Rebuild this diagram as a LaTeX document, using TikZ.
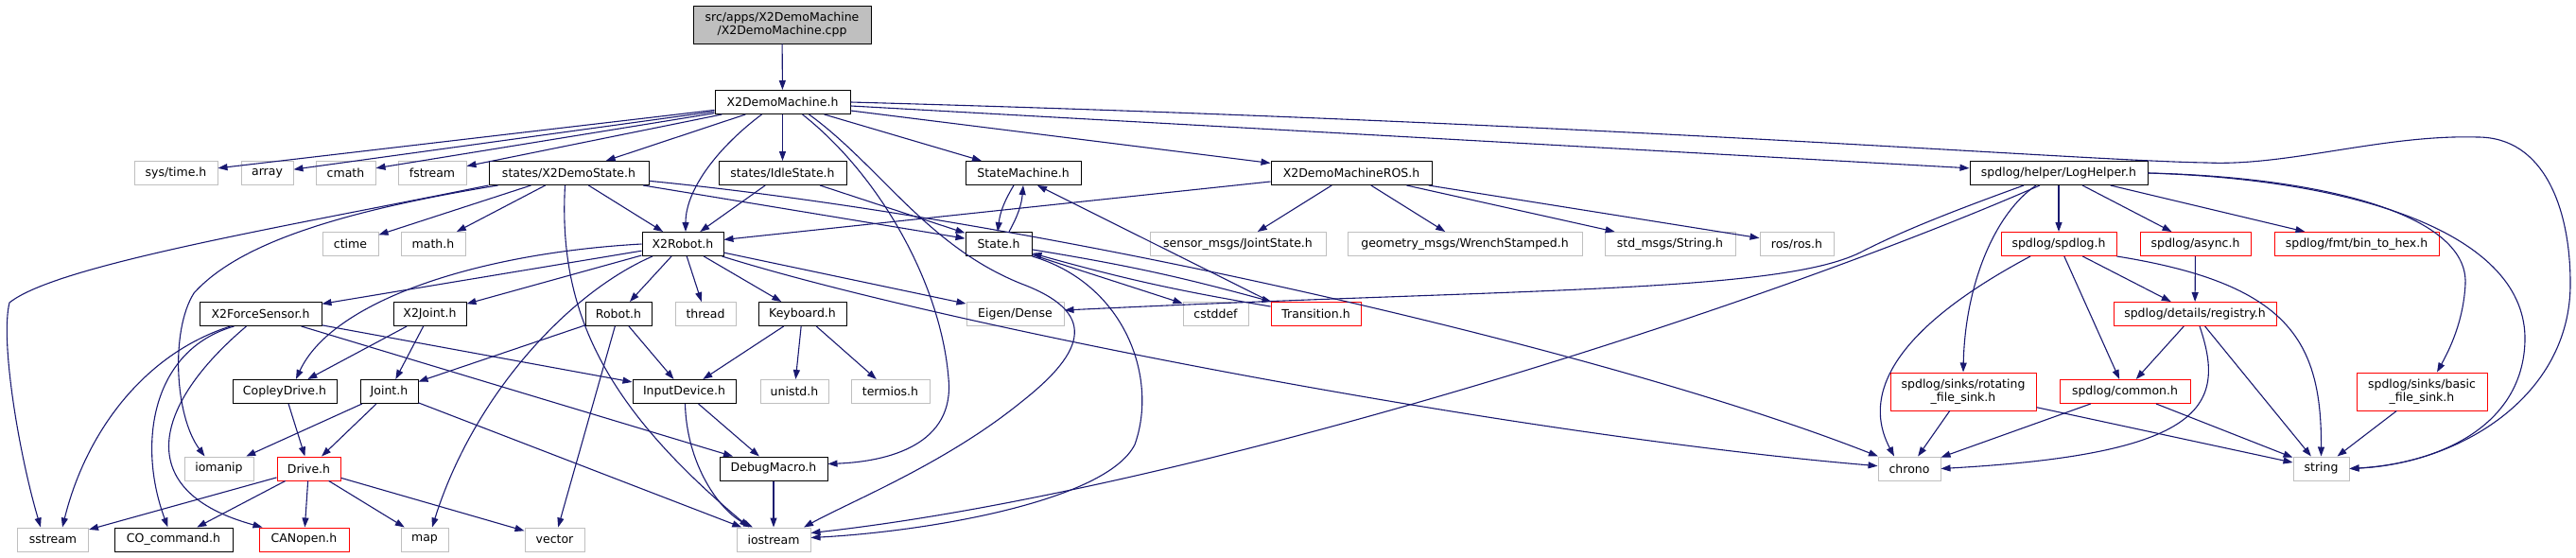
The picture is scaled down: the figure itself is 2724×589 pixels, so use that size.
\documentclass[tikz,border=0pt]{standalone}
\usepackage{fontspec}
\setmainfont{DejaVu Sans}
\usetikzlibrary{arrows.meta}
\definecolor{edgeblue}{HTML}{191970}
\definecolor{extgray}{HTML}{BFBFBF}
\definecolor{truncred}{HTML}{FF0000}

\begin{document}
\begin{tikzpicture}[
  x=1pt, y=-1pt,
  >={Triangle[length=10pt,width=7pt]},
  filebox/.style={draw, line width=1pt, fill=white, minimum height=25pt, inner xsep=2pt, inner ysep=1pt, align=center, font=\fontsize{12.5}{14.5}\selectfont},
  hdr/.style={filebox, draw=black},
  ext/.style={filebox, draw=extgray},
  trunc/.style={filebox, draw=truncred},
  root/.style={filebox, draw=black, fill=extgray, minimum height=40pt},
  dep/.style={->, draw=edgeblue, line width=1.1pt}
]
  \useasboundingbox (0,0) rectangle (2724,589);

  \node[root, minimum width=188pt] (cpp) at (827,26) {src/apps/X2DemoMachine\\/X2DemoMachine.cpp};
  \node[hdr, minimum width=143pt] (x2dm) at (827.5,108) {X2DemoMachine.h};

  \node[ext, minimum width=88pt] (systime) at (186,183) {sys/time.h};
  \node[ext, minimum width=55pt] (array) at (282.5,183) {array};
  \node[ext, minimum width=63pt] (cmath) at (365.5,183) {cmath};
  \node[ext, minimum width=72pt] (fstream) at (457,183) {fstream};
  \node[hdr, minimum width=169pt] (xds) at (601.5,183) {states/X2DemoState.h};
  \node[hdr, minimum width=135pt] (idle) at (827.5,183) {states/IdleState.h};
  \node[hdr, minimum width=122pt] (stm) at (1082,183) {StateMachine.h};
  \node[hdr, minimum width=170pt] (ros) at (1429,183) {X2DemoMachineROS.h};
  \node[hdr, minimum width=188pt] (log) at (2177,183) {spdlog/helper/LogHelper.h};

  \node[ext, minimum width=59pt] (ctime) at (370.5,258) {ctime};
  \node[ext, minimum width=68pt] (mathh) at (458,258) {math.h};
  \node[hdr, minimum width=86pt] (x2r) at (722,258) {X2Robot.h};
  \node[hdr, minimum width=70pt] (state) at (1056,258) {State.h};
  \node[ext, minimum width=186pt] (jointstate) at (1309,258) {sensor\_msgs/JointState.h};
  \node[ext, minimum width=248pt] (wrench) at (1549,258) {geometry\_msgs/WrenchStamped.h};
  \node[ext, minimum width=138pt] (stdstr) at (1766,258) {std\_msgs/String.h};
  \node[ext, minimum width=78pt] (rosh) at (1900,258) {ros/ros.h};
  \node[trunc, minimum width=122pt] (spd) at (2177,258) {spdlog/spdlog.h};
  \node[trunc, minimum width=117pt] (async) at (2321.5,258) {spdlog/async.h};
  \node[trunc, minimum width=174pt] (bth) at (2492,258) {spdlog/fmt/bin\_to\_hex.h};

  \node[hdr, minimum width=129pt] (x2fs) at (275.5,332) {X2ForceSensor.h};
  \node[hdr, minimum width=77pt] (x2j) at (454.5,332) {X2Joint.h};
  \node[hdr, minimum width=70pt] (robot) at (654,332) {Robot.h};
  \node[ext, minimum width=64pt] (thread) at (746,332) {thread};
  \node[hdr, minimum width=93pt] (kbd) at (848.5,332) {Keyboard.h};
  \node[ext, minimum width=103pt] (eigen) at (1073.5,332) {Eigen/Dense};
  \node[ext, minimum width=69pt] (cstddef) at (1285.5,332) {cstddef};
  \node[trunc, minimum width=95pt] (trans) at (1391.5,332) {Transition.h};
  \node[trunc, minimum width=172pt] (reg) at (2321,332) {spdlog/details/registry.h};

  \node[hdr, minimum width=110pt] (copley) at (301,414) {CopleyDrive.h};
  \node[hdr, minimum width=61pt] (joint) at (411.5,414) {Joint.h};
  \node[hdr, minimum width=109pt] (indev) at (723.5,414) {InputDevice.h};
  \node[ext, minimum width=72pt] (unistd) at (840,414) {unistd.h};
  \node[ext, minimum width=83pt] (termios) at (941.5,414) {termios.h};
  \node[trunc, minimum width=154pt, minimum height=40pt] (rot) at (2076,414) {spdlog/sinks/rotating\\\_file\_sink.h};
  \node[trunc, minimum width=138pt] (common) at (2247,414) {spdlog/common.h};
  \node[trunc, minimum width=138pt, minimum height=40pt] (bfs) at (2561,414) {spdlog/sinks/basic\\\_file\_sink.h};

  \node[ext, minimum width=73pt] (iomanip) at (231.5,495.5) {iomanip};
  \node[trunc, minimum width=67pt] (drive) at (326.5,495.5) {Drive.h};
  \node[hdr, minimum width=114pt] (dbg) at (818,495.5) {DebugMacro.h};
  \node[ext, minimum width=66pt] (chrono) at (2019,495.5) {chrono};
  \node[ext, minimum width=59pt] (string) at (2454.5,495.5) {string};

  \node[ext, minimum width=75pt] (sstream) at (56,570.5) {sstream};
  \node[hdr, minimum width=125pt] (co) at (183.5,570.5) {CO\_command.h};
  \node[trunc, minimum width=95pt] (canopen) at (321.5,570.5) {CANopen.h};
  \node[ext, minimum width=50pt] (map) at (449,570.5) {map};
  \node[ext, minimum width=63pt] (vector) at (586.5,570.5) {vector};
  \node[ext, minimum width=78pt] (ios) at (818,570.5) {iostream};

  \draw[dep] (cpp) -- (x2dm);
  \draw[dep] (x2dm) -- (systime);
  \draw[dep] (x2dm) -- (array);
  \draw[dep] (x2dm) -- (cmath);
  \draw[dep] (x2dm) -- (fstream);
  \draw[dep] (x2dm) -- (xds);
  \draw[dep] (x2dm) -- (idle);
  \draw[dep] (x2dm) -- (stm);
  \draw[dep] (x2dm) -- (ros);
  \draw[dep] (x2dm) -- (log);
  \draw[dep] ([xshift=-22]x2dm.south) .. controls (760,155) and (725,200) .. ([xshift=3]x2r.north);
  \draw[dep] ([xshift=21]x2dm.south) .. controls (930,185) and (995,300) .. (1003,400) .. controls (1010,470) and (940,488) .. ([yshift=5]dbg.east);
  \draw[dep] ([xshift=28]x2dm.south) .. controls (930,175) and (980,260) .. (1080,300) .. controls (1160,330) and (1150,370) .. (1080,425) .. controls (1000,490) and (900,530) .. ([xshift=32]ios.north);
  \draw[dep] (x2dm.east) .. controls (1700,130) and (2200,170) .. (2333,172) .. controls (2420,176) and (2520,142) .. (2620,145) .. controls (2690,145) and (2718,220) .. (2718,300) .. controls (2718,420) and (2600,490) .. (string.east);

  \draw[dep] (xds) -- (ctime);
  \draw[dep] (xds) -- (mathh);
  \draw[dep] (xds) -- (x2r);
  \draw[dep] (xds) -- (state);
  \draw[dep] (xds) .. controls (1100,232) and (1700,370) .. (chrono);
  \draw[dep] (xds.south west) .. controls (300,240) and (60,280) .. (10,320) .. controls (0,360) and (20,480) .. ([xshift=-13]sstream.north);
  \draw[dep] ([xshift=-75]xds.south) .. controls (350,225) and (250,260) .. (205,310) .. controls (180,350) and (185,440) .. ([xshift=-15]iomanip.north);
  \draw[dep] ([xshift=-4]xds.south) .. controls (590,330) and (640,430) .. ([xshift=-26]ios.north);
  \draw[dep] (idle) -- (x2r);
  \draw[dep] (idle) -- (state);

  \draw[dep] ([xshift=-10]stm.south) to[bend right=12] ([xshift=-1]state.north);
  \draw[dep] ([xshift=11]state.north) to[bend right=12] (stm.south);
  \draw[dep] (state) to[bend left=3] (trans);
  \draw[dep] (trans) to[bend left=3] (state);
  \draw[dep] (trans.north west) -- ([xshift=15]stm.south);
  \draw[dep] (state) -- (cstddef);
  \draw[dep] (state.south east) .. controls (1190,300) and (1225,400) .. (1200,470) .. controls (1170,530) and (980,562) .. ([yshift=2]ios.east);

  \draw[dep] (ros) -- (x2r);
  \draw[dep] (ros) -- (jointstate);
  \draw[dep] (ros) -- (wrench);
  \draw[dep] (ros) -- (stdstr);
  \draw[dep] (ros) -- (rosh);

  \draw[dep] (log) -- (spd);
  \draw[dep] (log) -- (async);
  \draw[dep] (log) -- (bth);
  \draw[dep] ([xshift=-24]log.south) .. controls (2110,225) and (2078,300) .. (rot.north);
  \draw[dep] (log.east) .. controls (2450,187) and (2610,225) .. (2607,300) .. controls (2605,340) and (2590,370) .. ([xshift=16]bfs.north);
  \draw[dep] (log.east) .. controls (2500,190) and (2672,250) .. (2670,360) .. controls (2668,450) and (2580,490) .. (string.east);
  \draw[dep] ([xshift=-37]log.south) .. controls (2060,225) and (2010,245) .. (1967,267) .. controls (1880,310) and (1600,305) .. ([yshift=4]eigen.east);
  \draw[dep] ([xshift=-20]log.south) .. controls (1850,330) and (1250,520) .. ([yshift=7]ios.east);

  \draw[dep] (spd) -- (reg);
  \draw[dep] (spd) -- (common);
  \draw[dep] ([xshift=-30]spd.south) .. controls (1980,360) and (1975,430) .. ([xshift=-16]chrono.north);
  \draw[dep] (spd.south east) .. controls (2420,300) and (2455,360) .. (string.north);
  \draw[dep] (async) -- (reg);
  \draw[dep] (reg) -- (common);
  \draw[dep] (reg) -- (string);
  \draw[dep] ([xshift=5]reg.south) .. controls (2355,430) and (2330,480) .. (chrono.east);
  \draw[dep] (common) -- (chrono);
  \draw[dep] (common) -- (string);
  \draw[dep] (rot) -- (chrono);
  \draw[dep] (rot) -- (string);
  \draw[dep] (bfs) -- (string);

  \draw[dep] (x2r) -- (x2fs);
  \draw[dep] (x2r) -- (x2j);
  \draw[dep] (x2r) -- (robot);
  \draw[dep] (x2r) -- (thread);
  \draw[dep] (x2r) -- (kbd);
  \draw[dep] (x2r) -- (eigen);
  \draw[dep] (x2r.west) .. controls (500,268) and (350,320) .. ([xshift=12]copley.north);
  \draw[dep] ([xshift=-32]x2r.south) .. controls (600,310) and (500,420) .. ([xshift=8]map.north);
  \draw[dep] (x2r) .. controls (1000,345) and (1600,460) .. (chrono);

  \draw[dep] (x2fs) -- (dbg);
  \draw[dep] (x2fs) -- (indev);
  \draw[dep] ([xshift=-32]x2fs.south) .. controls (150,375) and (90,460) .. ([xshift=10]sstream.north);
  \draw[dep] ([xshift=-28]x2fs.south) .. controls (160,370) and (145,470) .. ([xshift=-6]co.north);
  \draw[dep] ([xshift=-15]x2fs.south) .. controls (160,430) and (140,520) .. ([xshift=-44]canopen.north);
  \draw[dep] (x2j) -- (copley);
  \draw[dep] (x2j) -- (joint);
  \draw[dep] (robot) -- (joint);
  \draw[dep] (robot) -- (vector);
  \draw[dep] (robot) -- (indev);
  \draw[dep] (kbd) -- (indev);
  \draw[dep] (kbd) -- (unistd);
  \draw[dep] (kbd) -- (termios);
  \draw[dep] (indev) -- (dbg);
  \draw[dep] ([xshift=1]indev.south) .. controls (726,490) and (760,540) .. ([xshift=-22]ios.north);
  \draw[dep] (dbg) -- (ios);

  \draw[dep] (copley) -- (drive);
  \draw[dep] (joint) -- (iomanip);
  \draw[dep] (joint) -- (drive);
  \draw[dep] (joint) -- (ios);
  \draw[dep] (drive) -- (sstream);
  \draw[dep] (drive) -- (co);
  \draw[dep] (drive) -- (canopen);
  \draw[dep] (drive) -- (map);
  \draw[dep] (drive) -- (vector);
\end{tikzpicture}
\end{document}
